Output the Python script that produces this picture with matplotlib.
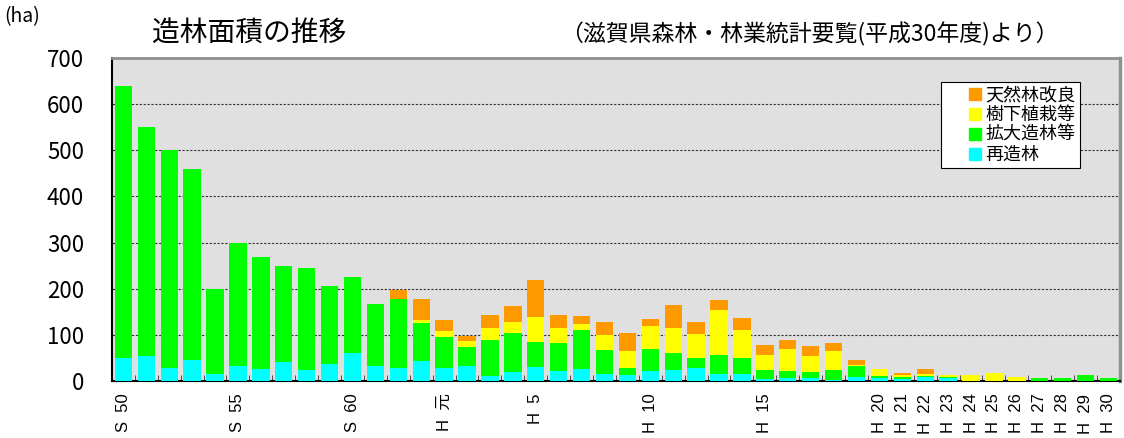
import matplotlib
matplotlib.use("Agg")
import matplotlib.pyplot as plt
from matplotlib.lines import Line2D
import numpy as np

plt.rcParams['font.family'] = ['Noto Sans CJK JP', 'DejaVu Sans']

# S50 (1975) .. H30 (2018)
labels = ["S  50", "", "", "", "", "S  55", "", "", "", "", "S  60", "", "", "",
          "H  元", "", "", "", "H  5", "", "", "", "", "H  10", "", "", "", "",
          "H  15", "", "", "", "", "H  20", "H  21", "H  22", "H  23", "H  24",
          "H  25", "H  26", "H  27", "H  28", "H  29", "H  30"]

saizourin = [49, 55, 29, 46, 16, 32, 27, 42, 25, 36, 61, 32, 29, 43, 29,
             33, 10, 20, 31, 21, 27, 16, 14, 21, 25, 28, 16, 15, 4, 7, 7, 2,
             9, 6, 4, 9, 6, 0, 0, 0, 0, 0, 0, 0]
kakudai = [591, 496, 472, 413, 183, 267, 242, 207, 221, 170, 165, 135, 149,
           82, 67, 41, 79, 84, 53, 62, 83, 51, 14, 49, 35, 22, 41, 36, 20,
           15, 12, 22, 23, 6, 5, 3, 3, 0, 0, 0, 7, 7, 14, 7]
jukasyokusai = [0, 0, 0, 0, 0, 0, 0, 0, 0, 0, 0, 0, 0, 7, 13, 12, 25, 24,
                55, 31, 14, 32, 37, 50, 56, 53, 96, 60, 33, 48, 35, 41, 3,
                14, 4, 4, 5, 13, 17, 9, 0, 0, 0, 0]
tennen = [0, 0, 0, 0, 0, 0, 0, 0, 0, 0, 0, 0, 19, 46, 23, 11, 29, 34, 81,
          29, 17, 29, 40, 15, 49, 25, 22, 26, 21, 18, 22, 18, 11, 0, 4, 11,
          0, 0, 0, 0, 0, 0, 0, 0]

series = [("再造林", saizourin, "#00FFFF"),
          ("拡大造林等", kakudai, "#00FF00"),
          ("樹下植栽等", jukasyokusai, "#FFFF00"),
          ("天然林改良", tennen, "#FF9900")]

fig = plt.figure(figsize=(11.24, 4.38), dpi=100)
ax = fig.add_axes([0.0996, 0.130, 0.8968, 0.7376])
ax.set_facecolor("#e0e0e0")

x = np.arange(len(labels))
bottom = np.zeros(len(labels))
for name, vals, col in series:
    ax.bar(x, vals, 0.76, bottom=bottom, color=col, zorder=3)
    bottom += np.array(vals)

ax.set_xlim(-0.5, len(labels) - 0.5)
ax.set_ylim(0, 700)
ax.set_yticks(range(0, 701, 100))
ax.yaxis.grid(True, color="#333333", linestyle=(0, (2, 1.5)), linewidth=0.8, zorder=1)
ax.tick_params(axis="y", length=4, direction="in", color="#333333",
               labelsize=16, pad=20)

ax.set_xticks(x)
ax.set_xticklabels(labels, rotation=90, fontsize=12,
                   family=["Liberation Sans", "Noto Sans CJK JP"])
ax.tick_params(axis="x", which="major", length=0, pad=9)
ax.set_xticks(np.arange(-0.5, len(labels), 1), minor=True)
ax.tick_params(axis="x", which="minor", length=4, direction="in", color="#333333")

for s in ["left", "bottom"]:
    ax.spines[s].set_color("black")
    ax.spines[s].set_linewidth(1.5)
ax.spines["top"].set_color("#909090")
ax.spines["top"].set_linewidth(2)
ax.spines["right"].set_color("#909090")
ax.spines["right"].set_linewidth(2.5)

handles = [Line2D([], [], linestyle="none", marker="s", markersize=9,
                  markerfacecolor=col, markeredgecolor=col)
           for name, vals, col in series][::-1]
leg = ax.legend(handles, [s[0] for s in series][::-1], loc="upper right",
                bbox_to_anchor=(0.960, 0.926), fontsize=13, handlelength=3.3,
                handletextpad=-1.1, labelspacing=0.1,
                borderpad=0.25, fancybox=False, edgecolor="black",
                framealpha=1, borderaxespad=0)
leg.get_frame().set_linewidth(0.8)
leg.set_zorder(5)

fig.text(0.004, 0.95, "(ha)", fontsize=14)
fig.text(0.135, 0.905, "造林面積の推移", fontsize=20)
fig.text(0.498, 0.905, "（滋賀県森林・林業統計要覧(平成30年度)より）", fontsize=16.5)

fig.savefig("out.png", dpi=100)
